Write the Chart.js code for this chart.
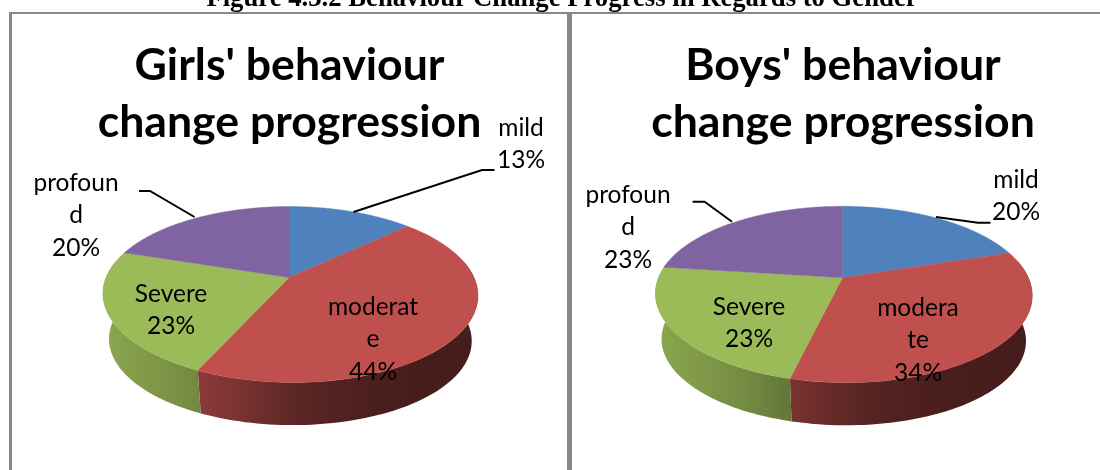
<!DOCTYPE html>
<html>
<head>
<meta charset="utf-8">
<script src="https://cdn.jsdelivr.net/npm/chart.js@4"></script>
<style>
html,body{margin:0;padding:0;background:#fff;width:1100px;height:470px;overflow:hidden}
#cap{position:absolute;left:0;width:1124px;top:-18px;text-align:center;font:bold 26.7px "Liberation Serif",serif;color:#000;white-space:nowrap}
.ln{position:absolute;background:#888}
canvas{position:absolute;top:0}
</style>
</head>
<body>
<canvas id="girls" width="579" height="470" style="left:0"></canvas>
<canvas id="boys" width="534" height="470" style="left:576px"></canvas>
<div id="cap">Figure 4.3.2 Behaviour Change Progress in Regards to Gender</div>
<div class="ln" style="left:9px;top:12px;width:1091px;height:2px"></div>
<div class="ln" style="left:9px;top:12px;width:3px;height:458px"></div>
<div class="ln" style="left:567px;top:12px;width:5px;height:458px"></div>
<script>
const categories = ['mild', 'moderate', 'Severe', 'profound'];
const girlsValues = [13, 44, 23, 20];
const boysValues = [20, 34, 23, 23];
const girlsLabelLines = [['mild'], ['moderat', 'e'], ['Severe'], ['profoun', 'd']];
const boysLabelLines = [['mild'], ['modera', 'te'], ['Severe'], ['profoun', 'd']];
const girlsTitle = ["Girls' behaviour", 'change progression'];
const boysTitle = ["Boys' behaviour", 'change progression'];
const sliceColors = ['#4F81BD', '#C0504D', '#9BBB59', '#8064A2'];

/* page layout of each panel (not data) */
const girlsView = {
  left: 0, cx: 289, cy: 277.5, a: 184, b: 84.7, k: 0.193, shear: 1, vy: 1675, t: 0.967,
  labelAt: [[521, 128], [373, 307], [171, 294], [76, 183]],
  leaders: [[[353.5, 212], [482, 170], [494.5, 170]], null, null, [[139, 191], [150, 191], [194.5, 217]]]
};
const boysView = {
  left: 576, cx: 842.4, cy: 277.7, a: 185, b: 85, k: 0.19, shear: 1, vy: 1675, t: 0.967,
  labelAt: [[1016, 180], [918, 308], [749, 307], [628, 195]],
  leaders: [[[936, 217], [978, 222.7], [990.5, 222.7]], null, null, [[692.6, 201.7], [704.6, 201.7], [732, 221.7]]]
};
const LABEL_FONT = '24.5px Lato';
const LINE_STEP = 32.5;
const SHADE_STOPS = [[-1, .9], [-.5, .74], [-.25, .62], [.1, .46], [.5, .38], [1, .36]];

function rgb(hex, f) {
  const n = parseInt(hex.slice(1), 16);
  return 'rgb(' + [(n >> 16) & 255, (n >> 8) & 255, n & 255].map(c => Math.round(c * f)).join(',') + ')';
}
function project(v, th, low) {
  const c = Math.cos(th), s = Math.sin(th), w = 1 / (1 - v.k * s);
  let x = v.cx + v.a * c * w + v.shear * (1 + s) * (1 + s), y = v.cy + v.b * s * w;
  if (low) { x = v.cx + (x - v.cx) * v.t; y = v.vy + (y - v.vy) * v.t; }
  return [x - v.left, y];
}
const pie3d = {
  id: 'pie3d',
  beforeDatasetDraw(chart, args, opts) {
    const v = opts.view, ctx = chart.ctx, arcs = chart.getDatasetMeta(0).data;
    const colors = chart.data.datasets[0].backgroundColor;
    const edgeA = -0.2, edgeB = Math.PI + 0.2;
    arcs.forEach((el, i) => {
      const s = Math.max(el.startAngle, edgeA), e = Math.min(el.endAngle, edgeB);
      if (e <= s) return;
      const n = 80, up = [], down = [];
      for (let j = 0; j <= n; j++) {
        const th = s + (e - s) * j / n;
        up.push(project(v, th, false));
        down.push(project(v, th, true));
      }
      const g = ctx.createLinearGradient(v.cx - v.left - v.a * 1.02, 0, v.cx - v.left + v.a * 1.02, 0);
      SHADE_STOPS.forEach(st => g.addColorStop((st[0] + 1) / 2, rgb(colors[i], st[1])));
      ctx.fillStyle = g;
      ctx.beginPath();
      up.forEach((p, j) => j ? ctx.lineTo(p[0], p[1]) : ctx.moveTo(p[0], p[1]));
      down.reverse().forEach(p => ctx.lineTo(p[0], p[1]));
      ctx.closePath();
      ctx.fill();
    });
    arcs.forEach((el, i) => {
      const n = 120;
      ctx.fillStyle = colors[i];
      ctx.strokeStyle = colors[i];
      ctx.lineWidth = 0.4;
      ctx.beginPath();
      ctx.moveTo(v.cx - v.left, v.cy);
      for (let j = 0; j <= n; j++) {
        const p = project(v, el.startAngle + (el.endAngle - el.startAngle) * j / n, false);
        ctx.lineTo(p[0], p[1]);
      }
      ctx.closePath();
      ctx.fill();
      ctx.stroke();
    });
    return false;
  },
  afterDatasetsDraw(chart, args, opts) {
    const v = opts.view, ctx = chart.ctx, values = chart.data.datasets[0].data;
    const total = values.reduce((a, b) => a + b, 0);
    ctx.save();
    ctx.strokeStyle = '#000';
    ctx.lineWidth = 2;
    v.leaders.forEach(path => {
      if (!path) return;
      ctx.beginPath();
      path.forEach((p, j) => j ? ctx.lineTo(p[0] - v.left, p[1]) : ctx.moveTo(p[0] - v.left, p[1]));
      ctx.stroke();
    });
    ctx.fillStyle = '#000';
    ctx.font = LABEL_FONT;
    ctx.textAlign = 'center';
    ctx.textBaseline = 'middle';
    opts.lines.forEach((lines, i) => {
      const at = v.labelAt[i];
      lines.concat([Math.round(values[i] / total * 100) + '%']).forEach((t, j) => {
        ctx.fillText(t, at[0] - v.left, at[1] + j * LINE_STEP);
      });
    });
    ctx.restore();
  }
};
function makePie(id, values, title, lines, view) {
  return new Chart(document.getElementById(id), {
    type: 'pie',
    plugins: [pie3d],
    data: {
      labels: categories,
      datasets: [{ data: values, backgroundColor: sliceColors, borderWidth: 0 }]
    },
    options: {
      responsive: false,
      animation: false,
      layout: { padding: 0 },
      plugins: {
        legend: { display: false },
        tooltip: { enabled: false },
        title: {
          display: true, text: title, color: '#000',
          font: { family: 'Lato', size: 44.6, weight: 'bold', lineHeight: 1.28 },
          padding: { top: 37, bottom: 0 }
        },
        pie3d: { view: view, lines: lines }
      }
    }
  });
}
makePie('girls', girlsValues, girlsTitle, girlsLabelLines, girlsView);
makePie('boys', boysValues, boysTitle, boysLabelLines, boysView);
</script>
</body>
</html>
